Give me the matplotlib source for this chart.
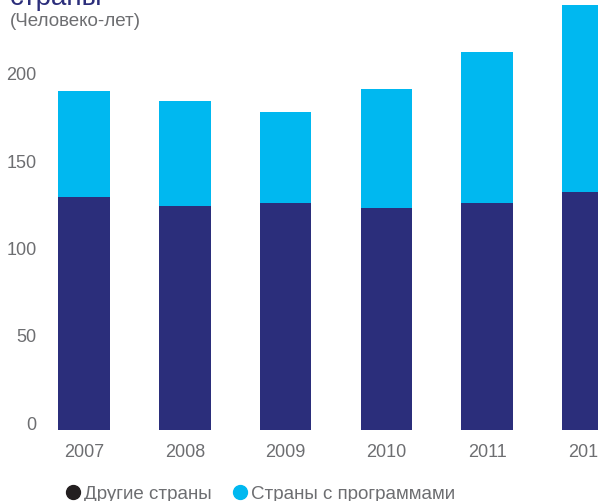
import matplotlib
matplotlib.use("Agg")
import matplotlib.pyplot as plt
from matplotlib.lines import Line2D

# data (person-years)
years = ["2007", "2008", "2009", "2010", "2011", "2012"]
other_countries = [133, 128, 130, 127, 130, 136]
program_countries = [61, 60, 52, 68, 86, 107]
y_ticks = [0, 50, 100, 150, 200]

dark = "#2b2e7b"
cyan = "#00b8f0"
grey = "#6d6e71"

plt.rcParams["font.family"] = ["Liberation Sans", "DejaVu Sans"]

W, H = 598, 501
fig = plt.figure(figsize=(W / 100, H / 100), dpi=100)

# axes placed in pixel terms, right edge = figure edge (last bar is clipped)
left_px, base_px = 45, 71
ax = fig.add_axes([left_px / W, base_px / H, 1 - left_px / W, 1 - base_px / H])

x = list(range(len(years)))
ax.bar(x, other_countries, width=0.51, color=dark, label="Другие страны")
ax.bar(x, program_countries, width=0.51, bottom=other_countries, color=cyan,
       label="Страны с программами")

# pixel mapping: 2007 centre at 84 px, spacing ~100.8 px
step = 100.8
ax.set_xlim((left_px - 84) / step, (W - 84) / step)
ax.set_ylim(0, (H - base_px) / 1.75)

ax.set_xticks(x)
ax.set_xticklabels(years, fontsize=13, color=grey)
ax.set_yticks(y_ticks)
ax.set_yticklabels([str(v) for v in y_ticks], fontsize=13, color=grey, va="baseline")
ax.tick_params(axis="x", length=0, pad=10)
ax.tick_params(axis="y", length=0, pad=6)
for s in ax.spines.values():
    s.set_visible(False)

# title (cut off at the top in the original) and unit
fig.text(10 / W, 1 - 5 / H, "страны", fontsize=20, color=dark, ha="left", va="baseline")
fig.text(10 / W, 1 - 22 / H, "(Человеко-лет)", fontsize=13.5, color=grey, ha="left", va="center")

handles = [
    Line2D([], [], marker="o", linestyle="", markersize=10, color="#231f20"),
    Line2D([], [], marker="o", linestyle="", markersize=10, color=cyan),
]
fig.legend(handles, ["Другие страны", "Страны с программами"], loc="center left",
           bbox_to_anchor=(54 / W, 1 - 494 / H), ncol=2, frameon=False, fontsize=13.5,
           handletextpad=0.1, columnspacing=1.0, handlelength=1.0, borderpad=0,
           labelcolor=grey)

fig.savefig("out.png", dpi=100)
